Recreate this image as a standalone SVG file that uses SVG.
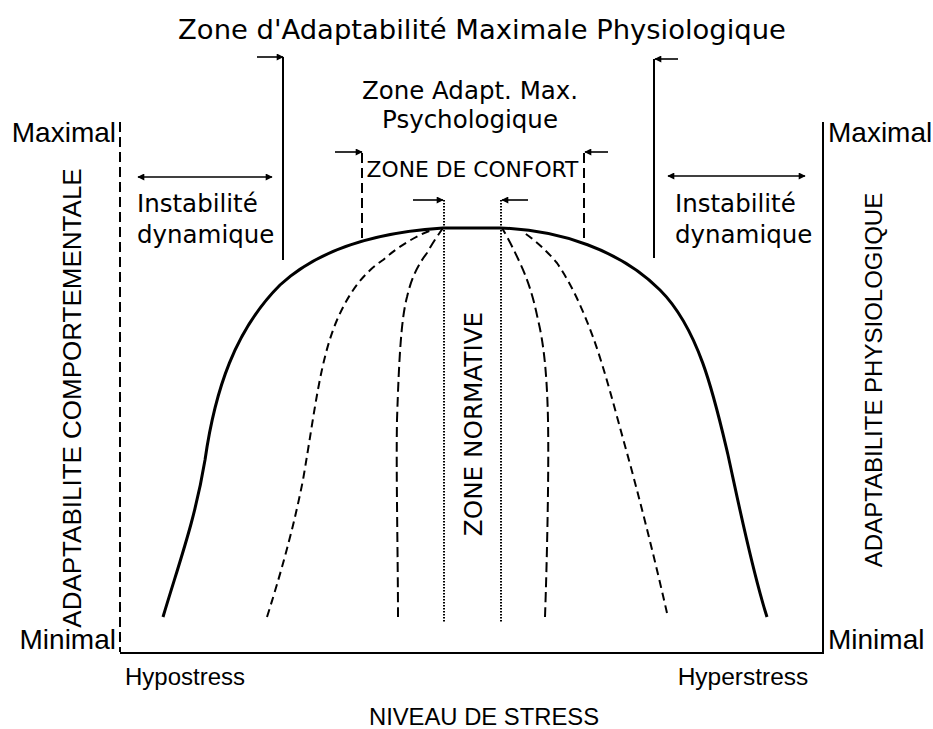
<svg xmlns="http://www.w3.org/2000/svg" width="933" height="729" viewBox="0 0 933 729">
<defs>
<marker id="ah" viewBox="0 0 10 10" refX="9" refY="5" markerWidth="9" markerHeight="7" markerUnits="userSpaceOnUse" orient="auto-start-reverse">
<path d="M0,0 L10,5 L0,10 Z" fill="#000"/>
</marker>
<style>
.dv{font-family:"DejaVu Sans",sans-serif;fill:#000}
.ls{font-family:"Liberation Sans",Arial,sans-serif;fill:#000}
.solid{fill:none;stroke:#000;stroke-width:2}
.thick{fill:none;stroke:#000;stroke-width:3}
.dash{fill:none;stroke:#000;stroke-width:2;stroke-dasharray:10,5}
.dash2{fill:none;stroke:#000;stroke-width:2;stroke-dasharray:8,5}
.dot{fill:none;stroke:#000;stroke-width:2;stroke-dasharray:1.5,1.5}
.arr{fill:none;stroke:#000;stroke-width:1.6;marker-end:url(#ah)}
.darr{fill:none;stroke:#000;stroke-width:1.6;marker-end:url(#ah);marker-start:url(#ah)}
</style>
</defs>
<rect width="933" height="729" fill="#fff"/>

<g id="axes">
<path class="dash" d="M120,122 V652"/>
<path class="solid" d="M120,653 H823 V122"/>
</g>

<g id="connectors">
<path class="thick" d="M163,617 C180,560 195,520 205,460 C215,390 235,330 280,285 C320,248 380,232 443,228 L500,228 C560,230 620,250 660,290 C700,330 715,400 728,455 C740,510 752,570 767,617"/>
<path class="dash2" d="M267,617 C285,560 295,520 303,480 C315,410 320,360 337,320 C350,290 365,272 383,260 C400,245 418,235 432,230"/>
<path class="dash" d="M398,617 C398,560 396,470 397,420 C399,360 401,320 407,297 C412,275 420,262 427,253 C432,244 438,235 443,228"/>
<path class="dash" d="M545,617 C547,560 549,470 548,420 C547,370 543,340 538,320 C533,295 527,278 520,263 C514,250 508,238 502,228"/>
<path class="dash2" d="M667,613 C655,560 640,500 627,453 C615,410 605,370 593,337 C583,310 572,285 557,263 C546,250 535,240 523,232"/>
<path class="dot" d="M444,200 V622"/>
<path class="dot" d="M501,200 V622"/>
<path class="arr" d="M413,200 H443"/>
<path class="arr" d="M528,200 H502"/>
<path class="dash" d="M362,153 V239" stroke-dasharray="9,4"/>
<path class="dash" d="M584,153 V241" stroke-dasharray="9,4"/>
<path class="arr" d="M335,152 H362"/>
<path class="arr" d="M608,152 H585"/>
<path class="solid" d="M283,57 V260"/>
<path class="solid" d="M654,59 V258"/>
<path class="arr" d="M257,57 H283"/>
<path class="arr" d="M678,59 H655"/>
<path class="darr" d="M138,177 H272"/>
<path class="darr" d="M668,176 H805"/>
</g>

<g id="labels">
<text class="dv" x="482" y="39" font-size="27.4" text-anchor="middle">Zone d'Adaptabilité Maximale Physiologique</text>
<text class="dv" x="470" y="99" font-size="24.5" text-anchor="middle">Zone Adapt. Max.</text>
<text class="dv" x="470" y="128" font-size="24.5" text-anchor="middle">Psychologique</text>
<text class="dv" x="472.5" y="177" font-size="21.8" text-anchor="middle">ZONE DE CONFORT</text>
<text class="dv" x="137" y="212" font-size="24.5">Instabilité</text>
<text class="dv" x="137" y="243" font-size="24.5">dynamique</text>
<text class="dv" x="675" y="212" font-size="24.5">Instabilité</text>
<text class="dv" x="675" y="243" font-size="24.5">dynamique</text>
<text class="dv" transform="translate(482,424) rotate(-90)" font-size="24.7" text-anchor="middle">ZONE NORMATIVE</text>
<text class="ls" x="116" y="142" font-size="28" text-anchor="end">Maximal</text>
<text class="ls" x="116" y="649" font-size="28" text-anchor="end">Minimal</text>
<text class="ls" x="828" y="142" font-size="28">Maximal</text>
<text class="ls" x="828" y="649" font-size="28">Minimal</text>
<text class="ls" transform="translate(81,398) rotate(-90)" font-size="26" text-anchor="middle">ADAPTABILITE COMPORTEMENTALE</text>
<text class="ls" transform="translate(882,380) rotate(-90)" font-size="24" text-anchor="middle">ADAPTABILITE PHYSIOLOGIQUE</text>
<text class="ls" x="185" y="685" font-size="24" text-anchor="middle">Hypostress</text>
<text class="ls" x="743" y="685" font-size="24.5" text-anchor="middle">Hyperstress</text>
<text class="ls" x="484" y="725" font-size="23.8" text-anchor="middle">NIVEAU DE STRESS</text>
</g>
</svg>
